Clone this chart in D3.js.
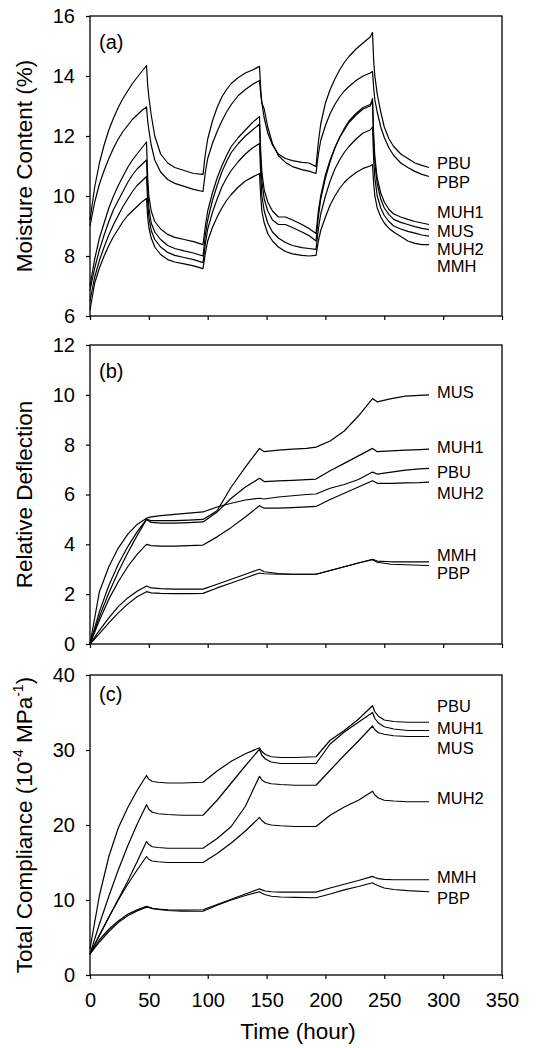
<!DOCTYPE html>
<html>
<head>
<meta charset="utf-8">
<script src="https://cdn.jsdelivr.net/npm/d3@7"></script>
<style>
  body{margin:0;background:#fff}
  svg text{font-family:"Liberation Sans",Arial,sans-serif;fill:#000}
</style>
</head>
<body>
<svg id="chart" width="551" height="1048"></svg>
<script>
// ---- data ----
const X_TICKS = [0,50,100,150,200,250,300,350];

// (a) moisture content, %
const TIME_A = [0,4,8,12,16,20,24,28,32,36,40,44,48,
  49,50,52,55,60,66,72,80,88,96,
  98,100,104,108,112,116,120,126,132,138,144,
  145,146,148,151,155,160,166,172,180,186,192,
  194,196,200,204,208,212,216,220,226,232,238,240,
  241,242,244,247,250,254,258,264,270,276,282,288];
const MC_PBU = [9.2,10.3,11.1,11.7,12.2,12.6,12.95,13.25,13.5,13.75,13.95,14.15,14.35,
  13.7,13.3,12.7,12.0,11.4,11.1,10.95,10.85,10.75,10.72,
  11.4,11.9,12.5,12.95,13.3,13.55,13.75,13.95,14.1,14.2,14.32,
  13.6,13.1,12.6,12.1,11.7,11.4,11.25,11.18,11.12,11.1,10.98,
  11.8,12.4,13.1,13.55,13.9,14.2,14.45,14.65,14.9,15.1,15.3,15.45,
  14.5,14.0,13.4,12.8,12.3,11.9,11.65,11.4,11.25,11.1,11.02,10.95];
const MC_PBP = [9.0,9.8,10.4,10.85,11.25,11.6,11.9,12.15,12.35,12.55,12.7,12.85,12.97,
  12.5,12.2,11.7,11.2,10.8,10.55,10.42,10.32,10.22,10.15,
  10.8,11.25,11.75,12.15,12.5,12.8,13.05,13.35,13.55,13.72,13.85,
  13.4,13.1,12.9,12.3,11.75,11.35,11.12,10.98,10.88,10.83,10.75,
  11.4,11.85,12.35,12.75,13.05,13.3,13.5,13.65,13.85,14.0,14.1,14.15,
  13.6,13.2,12.8,12.3,11.95,11.6,11.35,11.1,10.95,10.82,10.72,10.65];
const MC_MUH1 = [7.0,7.9,8.6,9.1,9.6,10.0,10.35,10.65,10.95,11.2,11.4,11.6,11.8,
  10.6,10.0,9.5,9.15,8.9,8.72,8.62,8.55,8.48,8.38,
  9.0,9.5,10.1,10.6,11.0,11.35,11.65,11.95,12.2,12.45,12.65,
  11.5,10.8,10.2,9.8,9.5,9.3,9.3,9.2,9.05,8.92,8.75,
  9.5,10.0,10.7,11.2,11.6,11.95,12.2,12.45,12.7,12.9,13.0,13.25,
  12.0,11.3,10.6,10.1,9.8,9.55,9.4,9.3,9.22,9.15,9.1,9.05];
const MC_MUS = [6.85,7.6,8.2,8.7,9.15,9.55,9.85,10.15,10.45,10.7,10.9,11.05,11.2,
  10.2,9.6,9.1,8.8,8.55,8.35,8.25,8.17,8.1,8.0,
  8.7,9.2,9.85,10.35,10.8,11.15,11.45,11.75,12.0,12.2,12.4,
  11.2,10.5,9.9,9.5,9.2,9.05,9.05,8.95,8.8,8.68,8.5,
  9.3,9.9,10.6,11.15,11.6,11.95,12.25,12.5,12.75,12.95,13.05,13.1,
  11.8,11.1,10.4,9.9,9.6,9.38,9.22,9.12,9.05,8.98,8.92,8.88];
const MC_MUH2 = [6.5,7.3,7.85,8.3,8.7,9.05,9.35,9.65,9.9,10.15,10.35,10.5,10.65,
  9.8,9.3,8.85,8.55,8.3,8.12,8.02,7.95,7.88,7.78,
  8.4,8.9,9.45,9.9,10.3,10.6,10.85,11.15,11.4,11.6,11.75,
  10.7,10.0,9.5,9.1,8.8,8.6,8.45,8.35,8.28,8.25,8.22,
  8.9,9.4,10.0,10.5,10.9,11.2,11.45,11.65,11.9,12.1,12.2,12.3,
  11.2,10.6,10.0,9.6,9.35,9.15,9.0,8.9,8.82,8.76,8.7,8.66];
const MC_MMH = [6.2,7.1,7.6,8.0,8.35,8.65,8.9,9.15,9.35,9.5,9.65,9.8,9.92,
  9.3,8.95,8.6,8.3,8.05,7.88,7.8,7.74,7.67,7.58,
  8.1,8.5,8.95,9.3,9.6,9.85,10.05,10.3,10.5,10.63,10.75,
  10.0,9.5,9.1,8.75,8.5,8.3,8.15,8.07,8.02,8.0,8.02,
  8.5,8.85,9.3,9.7,10.0,10.25,10.45,10.6,10.78,10.92,11.0,11.05,
  10.4,10.0,9.6,9.3,9.1,8.92,8.8,8.65,8.5,8.42,8.38,8.38];

// (b) relative deflection
const TIME_B = [0,8,16,24,32,40,48,52,60,72,84,96,108,120,132,144,
  148,160,172,184,192,204,216,228,240,244,256,268,280,288];
const RD_MUS  = [0,1.3,2.35,3.2,3.9,4.5,5.0,4.95,4.95,4.95,4.97,5.0,5.35,6.3,7.1,7.85,
  7.72,7.78,7.82,7.85,7.9,8.15,8.55,9.15,9.85,9.72,9.85,9.95,9.98,10.0];
const RD_MUH1 = [0,1.1,2.05,2.9,3.65,4.35,5.0,4.88,4.85,4.85,4.87,4.9,5.3,5.85,6.3,6.65,
  6.52,6.55,6.57,6.6,6.62,6.95,7.25,7.55,7.85,7.72,7.75,7.78,7.8,7.82];
const RD_PBU  = [0,2.1,3.1,3.85,4.4,4.8,5.05,5.1,5.15,5.2,5.25,5.3,5.5,5.65,5.78,5.85,
  5.82,5.9,5.95,6.0,6.02,6.25,6.4,6.6,6.9,6.82,6.9,6.98,7.03,7.05];
const RD_MUH2 = [0,0.95,1.8,2.5,3.1,3.6,4.0,3.95,3.93,3.93,3.95,3.97,4.3,4.68,5.1,5.55,
  5.45,5.45,5.47,5.5,5.52,5.8,6.05,6.3,6.55,6.45,6.45,6.47,6.48,6.5];
const RD_MMH  = [0,0.55,1.05,1.5,1.85,2.12,2.33,2.25,2.22,2.2,2.2,2.2,2.4,2.6,2.8,3.0,
  2.9,2.83,2.8,2.8,2.8,2.95,3.1,3.25,3.4,3.33,3.3,3.3,3.3,3.3];
const RD_PBP  = [0,0.42,0.85,1.25,1.6,1.9,2.1,2.05,2.03,2.02,2.02,2.03,2.25,2.45,2.65,2.85,
  2.82,2.8,2.8,2.8,2.8,2.95,3.1,3.25,3.38,3.28,3.2,3.18,3.16,3.15];

// (c) total compliance, 10^-4 MPa^-1
const TIME_C = [0,8,16,24,32,40,48,50,53,58,66,78,96,108,120,132,144,
  146,149,154,162,174,192,204,216,228,240,242,245,250,258,270,288];
const TC_PBU  = [3.5,10.6,15.8,19.6,22.3,24.6,26.6,26.1,25.8,25.7,25.6,25.6,25.7,27.2,28.5,29.5,30.3,
  29.8,29.4,29.1,29.0,29.0,29.1,31.3,32.6,34.1,35.9,35.1,34.5,34.0,33.8,33.7,33.7];
const TC_MUH1 = [2.8,6.8,10.5,14.0,17.2,20.1,22.7,22.1,21.7,21.5,21.4,21.3,21.3,23.3,25.6,27.9,30.1,
  29.3,28.8,28.4,28.2,28.2,28.2,30.8,32.4,33.7,35.0,34.2,33.6,33.1,32.8,32.6,32.6];
const TC_MUS  = [2.8,5.3,7.7,10.1,12.5,15.1,17.8,17.4,17.1,17.0,16.9,16.9,16.9,18.2,19.8,22.5,26.5,
  26.0,25.7,25.5,25.4,25.3,25.3,27.3,29.3,31.2,33.2,32.7,32.3,32.1,31.9,31.8,31.8];
const TC_MUH2 = [2.8,5.3,7.7,10.0,12.1,14.0,15.8,15.4,15.2,15.1,15.0,15.0,15.0,16.2,17.6,19.2,21.0,
  20.6,20.2,20.0,19.9,19.8,19.8,21.3,22.4,23.3,24.5,24.0,23.6,23.3,23.2,23.1,23.1];
const TC_MMH  = [2.8,4.7,6.1,7.2,8.1,8.7,9.15,9.05,8.9,8.8,8.7,8.65,8.7,9.4,10.1,10.8,11.5,
  11.35,11.2,11.1,11.05,11.05,11.05,11.6,12.1,12.6,13.15,13.0,12.85,12.75,12.7,12.7,12.7];
const TC_PBP  = [2.8,4.4,5.8,7.0,7.9,8.55,9.05,9.0,8.85,8.75,8.6,8.5,8.5,9.3,10.0,10.6,11.1,
  10.9,10.7,10.5,10.4,10.35,10.3,10.8,11.35,11.8,12.3,12.1,11.9,11.6,11.4,11.25,11.1];

// ---- layout ----
const svg = d3.select("#chart");
const X0 = 90, X1 = 502;
const x = d3.scaleLinear().domain([0,350]).range([X0,X1]);

// label anchors are given in data units of each panel
const PANELS = [
  { tag:"(a)", top:16, bottom:316, domain:[6,16], ticks:[6,8,10,12,14,16], tagDy:33,
    title:"Moisture Content (%)", time:TIME_A,
    series:[["PBU",MC_PBU,11.09],["PBP",MC_PBP,10.46],["MUH1",MC_MUH1,9.45],
            ["MUS",MC_MUS,8.82],["MUH2",MC_MUH2,8.24],["MMH",MC_MMH,7.66]] },
  { tag:"(b)", top:345, bottom:644, domain:[0,12], ticks:[0,2,4,6,8,10,12], tagDy:33,
    title:"Relative Deflection", time:TIME_B,
    series:[["MUS",RD_MUS,10.12],["MUH1",RD_MUH1,7.92],["PBU",RD_PBU,6.91],
            ["MUH2",RD_MUH2,6.05],["MMH",RD_MMH,3.57],["PBP",RD_PBP,2.86]] },
  { tag:"(c)", top:675, bottom:975, domain:[0,40], ticks:[0,10,20,30,40], tagDy:26,
    title:null, time:TIME_C, xLabels:true,
    series:[["PBU",TC_PBU,35.8],["MUH1",TC_MUH1,32.95],["MUS",TC_MUS,30.3],
            ["MUH2",TC_MUH2,23.6],["MMH",TC_MMH,13.1],["PBP",TC_PBP,10.3]] }
];

PANELS.forEach(p => {
  const y = d3.scaleLinear().domain(p.domain).range([p.bottom, p.top]);
  const g = svg.append("g");

  // y axis
  const ya = g.append("g").attr("transform",`translate(${X0},0)`)
    .call(d3.axisLeft(y).tickValues(p.ticks).tickSize(4).tickPadding(11));
  ya.select(".domain").remove();
  ya.selectAll("text").style("font-size","20px");

  // x axis
  const xa = g.append("g").attr("transform",`translate(0,${p.bottom})`)
    .call(d3.axisBottom(x).tickValues(X_TICKS).tickSize(4).tickPadding(14)
      .tickFormat(p.xLabels ? d3.format("d") : ""));
  xa.select(".domain").remove();
  xa.selectAll("text").style("font-size","20px");
  g.selectAll(".tick line").attr("stroke-width",1.2);

  // frame
  g.append("rect")
    .attr("x",X0).attr("y",p.top)
    .attr("width",X1-X0).attr("height",p.bottom-p.top)
    .attr("fill","none").attr("stroke","#000").attr("stroke-width",1.3);

  // curves + end labels
  const line = d3.line().x((d,i)=>x(p.time[i])).y(d=>y(d));
  p.series.forEach(([name, vals, labelAt]) => {
    g.append("path").datum(vals)
      .attr("d", line)
      .attr("fill","none").attr("stroke","#000")
      .attr("stroke-width",1.2).attr("stroke-linejoin","round");
    g.append("text")
      .attr("x", x(288)+8).attr("y", y(labelAt))
      .attr("dy","0.36em")
      .style("font-size","16.5px")
      .text(name);
  });

  g.append("text").attr("x",99).attr("y",p.top+p.tagDy)
    .style("font-size","20px").text(p.tag);

  // y title
  const cy = (p.top+p.bottom)/2;
  const t = g.append("text")
    .attr("transform",`translate(32,${cy}) rotate(-90)`)
    .attr("text-anchor","middle")
    .style("font-size","22.5px");
  if (p.title) {
    t.text(p.title);
  } else {
    t.append("tspan").text("Total Compliance (10");
    t.append("tspan").attr("dy",-9).style("font-size","14px").text("-4");
    t.append("tspan").attr("dy",9).text(" MPa");
    t.append("tspan").attr("dy",-9).style("font-size","14px").text("-1");
    t.append("tspan").attr("dy",9).text(")");
  }
});

svg.append("text")
  .attr("x",298).attr("y",1039)
  .attr("text-anchor","middle")
  .style("font-size","22.5px")
  .text("Time (hour)");
</script>
</body>
</html>
